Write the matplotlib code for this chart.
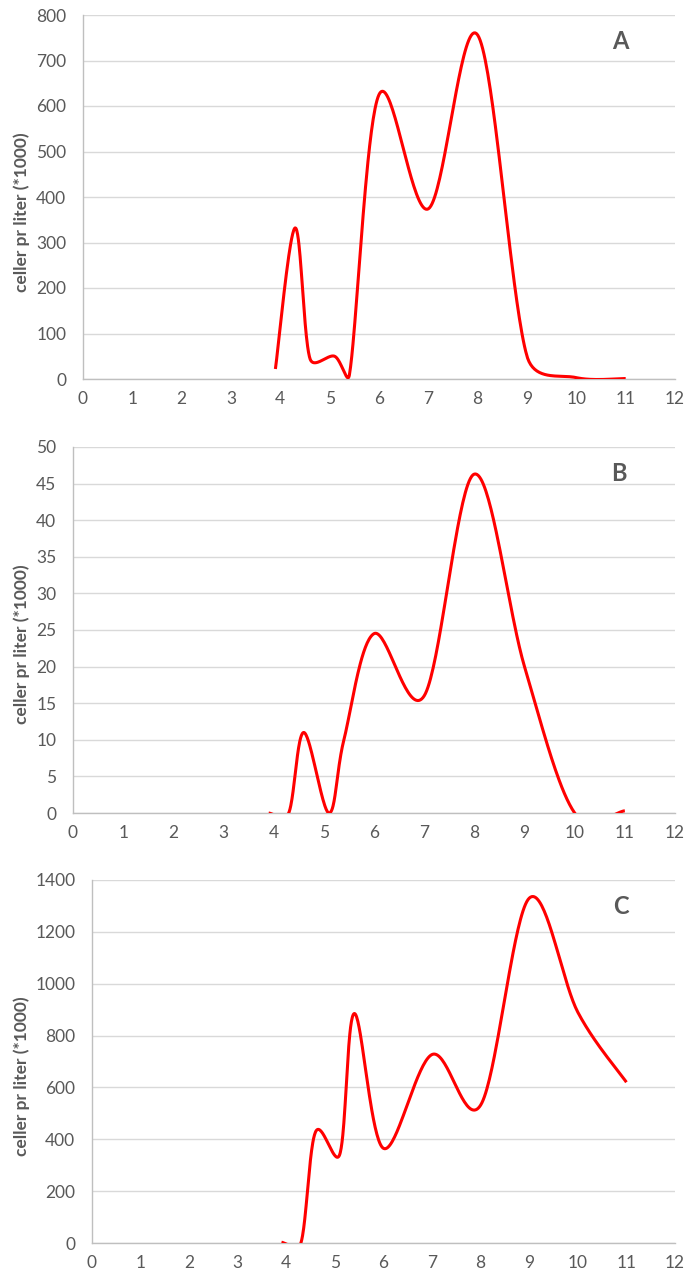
import numpy as np
import matplotlib
matplotlib.use("Agg")
import matplotlib.pyplot as plt

plt.rcParams['font.family'] = ['Lato', 'DejaVu Sans']

# sample points (same x grid for all three panels)
x_vals = [3.9, 4.3, 4.6, 5.1, 5.4, 6.0, 7.0, 8.0, 9.0, 10.0, 11.0]
a_vals = [22, 332, 45, 50, 9, 625, 374, 756, 50, 3, 1]
b_vals = [0, 0, 11, 0, 10, 24.5, 16, 46.3, 20, 0, 0.3]
c_vals = [3, 0, 428, 342, 885, 365, 727, 532, 1330, 890, 620]

panel_labels = ['A', 'B', 'C']
y_max = [800, 50, 1400]
y_step = [100, 5, 200]
x_ticks = list(range(0, 13))
y_title = 'celler pr liter (*1000)'

GRID = '#d9d9d9'
SPINE = '#bfbfbf'
TXT = '#595959'
W, H = 688, 1280


def excel_smooth(ax, xs, ys, n=40):
    # Excel-like smoothed line: cubic Bezier per segment, built in display space
    pts = ax.transData.transform(np.column_stack([xs, ys]))
    out = []
    m = len(pts)
    for i in range(m - 1):
        p1, p2 = pts[i], pts[i + 1]
        p0 = pts[i - 1] if i > 0 else p1
        p3 = pts[i + 2] if i + 2 < m else p2
        d12 = np.linalg.norm(p2 - p1)
        t1 = p2 - p0
        t2 = p3 - p1
        l1 = min(np.linalg.norm(t1) / 6, d12 / 2)
        l2 = min(np.linalg.norm(t2) / 6, d12 / 2)
        c1 = p1 + (t1 / np.linalg.norm(t1) * l1 if np.linalg.norm(t1) > 0 else 0)
        c2 = p2 - (t2 / np.linalg.norm(t2) * l2 if np.linalg.norm(t2) > 0 else 0)
        t = np.linspace(0, 1, n)[:, None]
        seg = ((1 - t) ** 3 * p1 + 3 * (1 - t) ** 2 * t * c1
               + 3 * (1 - t) * t ** 2 * c2 + t ** 3 * p2)
        out.append(seg if i == 0 else seg[1:])
    curve = np.vstack(out)
    return ax.transData.inverted().transform(curve)


fig = plt.figure(figsize=(W / 100, H / 100), dpi=100)

# axes boxes in pixels: left, top, right, bottom
boxes = [(83, 15, 675, 379), (73, 447, 675, 813), (92, 880, 675, 1243)]
label_y = [212, 644, 1076]
series = [a_vals, b_vals, c_vals]

for k in range(3):
    l, t, r, b = boxes[k]
    ax = fig.add_axes([l / W, 1 - b / H, (r - l) / W, (b - t) / H])
    ax.set_xlim(0, 12)
    ax.set_ylim(0, y_max[k])
    ax.set_xticks(x_ticks)
    ax.set_yticks(np.arange(0, y_max[k] + 1, y_step[k]))
    ax.grid(axis='y', color=GRID, linewidth=1.0)
    ax.set_axisbelow(True)
    for s in ['top', 'right']:
        ax.spines[s].set_visible(False)
    for s in ['left', 'bottom']:
        ax.spines[s].set_color(SPINE)
        ax.spines[s].set_linewidth(1.0)
    ax.tick_params(axis='both', length=0, labelsize=12.5, labelcolor=TXT)
    ax.tick_params(axis='y', pad=12)
    ax.tick_params(axis='x', pad=9)

    cx, cy = excel_smooth(ax, x_vals, series[k]).T
    ax.plot(cx, cy, color='#ff0000', linewidth=2.2, solid_capstyle='butt', zorder=3)

    ax.text(0.907, 0.928, panel_labels[k], transform=ax.transAxes, ha='center',
            va='center', fontsize=17, fontweight='bold', color=TXT)
    fig.text(22 / W, 1 - label_y[k] / H, y_title, rotation=90, ha='center',
             va='center', fontsize=12.5, fontweight='bold', color=TXT)

fig.savefig('out.png', dpi=100)
